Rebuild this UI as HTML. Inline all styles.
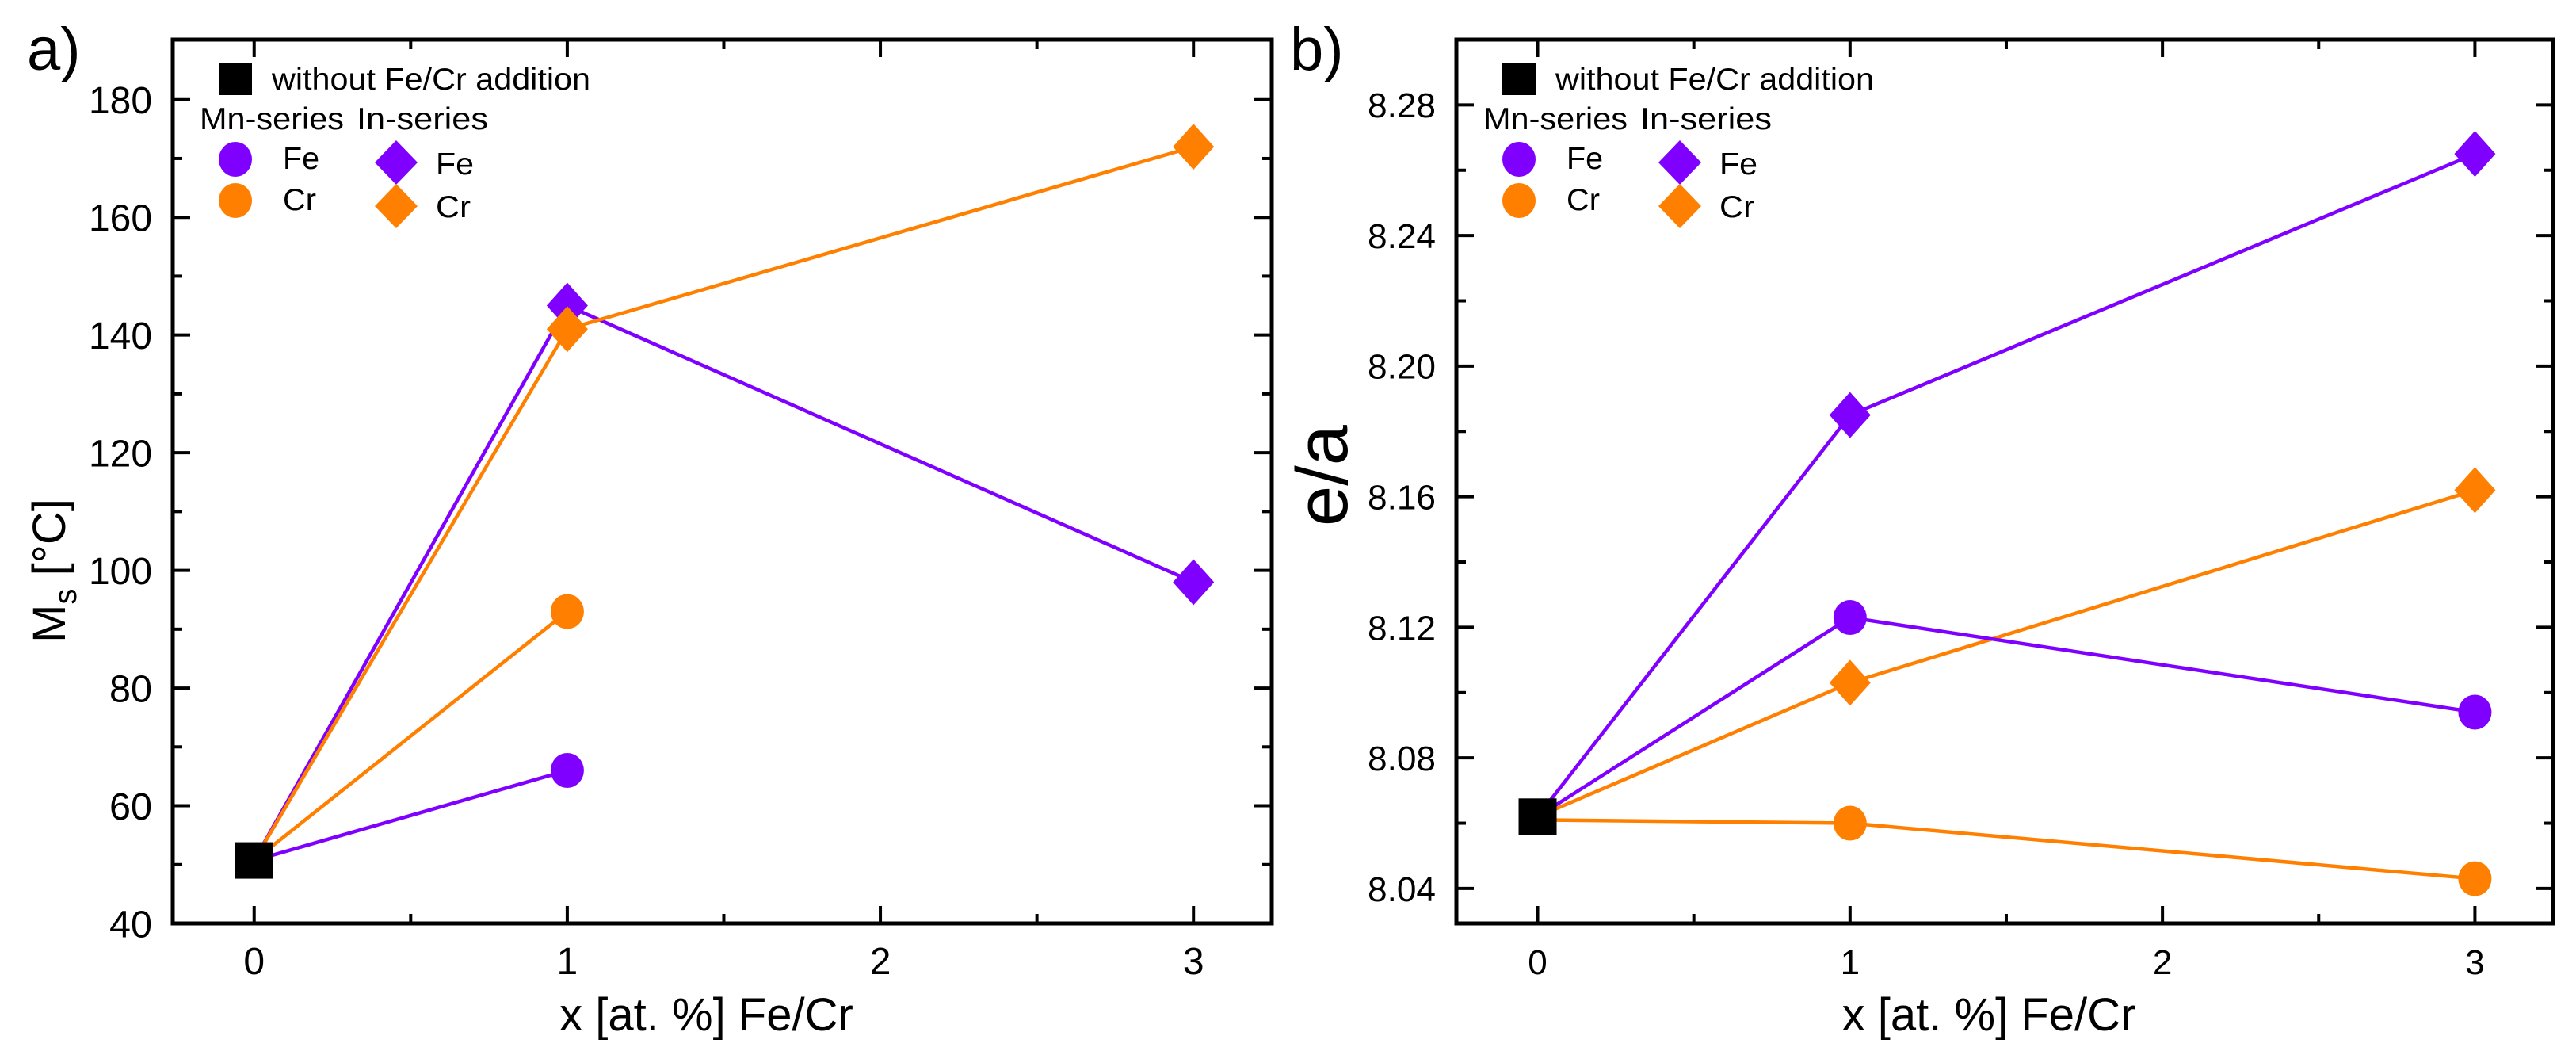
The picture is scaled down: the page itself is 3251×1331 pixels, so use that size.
<!DOCTYPE html>
<html><head><meta charset="utf-8">
<style>
html,body{margin:0;padding:0;background:#fff;}
svg{display:block;font-family:"Liberation Sans",Arial,sans-serif;}
</style></head>
<body>
<svg id="fig" width="3251" height="1331" viewBox="0 0 3251 1331"></svg>
<script>
// ---- Panel a data (Ms) ----
const xCatsA = [0, 1, 3];
const baseA = 50.7;
const mnFeA = [null, 66, null];
const mnCrA = [null, 93, null];
const inFeA = [null, 145, 98];
const inCrA = [null, 141, 172];
const yTicksA = [40, 60, 80, 100, 120, 140, 160, 180];
const yTickLabelsA = ["40", "60", "80", "100", "120", "140", "160", "180"];
// ---- Panel b data (e/a) ----
const baseB = 8.062;
const mnFeB = [null, 8.123, 8.094];
const mnCrB = [8.061, 8.060, 8.043];
const inFeB = [null, 8.185, 8.265];
const inCrB = [null, 8.103, 8.162];
const yTicksB = [8.04, 8.08, 8.12, 8.16, 8.20, 8.24, 8.28];
const yTickLabelsB = ["8.04", "8.08", "8.12", "8.16", "8.20", "8.24", "8.28"];
const xTicks = [0, 1, 2, 3];
const xTickLabels = ["0", "1", "2", "3"];

const NS = "http://www.w3.org/2000/svg";
const svg = document.getElementById("fig");
const PUR = "#8000ff", ORG = "#ff8000";

function mk(tag, attrs, parent) {
  const e = document.createElementNS(NS, tag);
  for (const k in attrs) e.setAttribute(k, attrs[k]);
  (parent || svg).appendChild(e);
  return e;
}

function panel(cfg) {
  const g = mk("g", {});
  
  
  const L = cfg.left, R = cfg.right, T = 50, B = 1165;
  const xs = v => L + (v - (-0.26)) / (3.25 - (-0.26)) * (R - L);
  const ys = v => B - (v - cfg.ymin) / (cfg.ymax - cfg.ymin) * (B - T);

  const tg = mk("g", {stroke: "#000", "stroke-width": 4}, g);
  
  
  xTicks.forEach((v, i) => {
    const x = xs(v);
    mk("line", {x1: x, x2: x, y1: B, y2: B - 22}, tg);
    mk("line", {x1: x, x2: x, y1: T, y2: T + 22}, tg);
    if (i < xTicks.length - 1) {
      const xm = xs(v + 0.5);
      mk("line", {x1: xm, x2: xm, y1: B, y2: B - 12}, tg);
      mk("line", {x1: xm, x2: xm, y1: T, y2: T + 12}, tg);
    }
    const t = mk("text", {x: x, y: B + 64, "font-size": cfg.tickFont, "text-anchor": "middle", "fill": "#000"}, g);
    t.textContent = xTickLabels[i];
    
    
  });
  cfg.yTicks.forEach((v, i) => {
    const y = ys(v);
    mk("line", {x1: L, x2: L + 22, y1: y, y2: y}, tg);
    mk("line", {x1: R, x2: R - 22, y1: y, y2: y}, tg);
    const ym = ys(v + cfg.minorStep);
    if (ym > T + 2) {
      mk("line", {x1: L, x2: L + 12, y1: ym, y2: ym}, tg);
      mk("line", {x1: R, x2: R - 12, y1: ym, y2: ym}, tg);
    }
    const t = mk("text", {x: L - 26, y: y + cfg.tickFont * 0.36, "font-size": cfg.tickFont, "text-anchor": "end", "fill": "#000", "textLength": cfg.tickW[i], "lengthAdjust": "spacingAndGlyphs"}, g);
    t.textContent = cfg.yLabels[i];
    
    
  });
  const frame = mk("rect", {x: L, y: T, width: R - L, height: B - T, fill: "none", stroke: "#000", "stroke-width": 5}, g);
  
  

  const base = [xs(0), ys(cfg.base)];
  function series(vals, color, shape, nm) {
    const pts = [base];
    vals.forEach((v, i) => {
      if (v === null) return;
      pts.push([xs(xCatsA[i]), ys(v)]);
    });
    const pl = mk("polyline", {points: pts.map(p => p.join(",")).join(" "), fill: "none", stroke: color, "stroke-width": 4.5}, g);
    
    
    vals.forEach((v, i) => {
      if (v === null || i === 0) return;
      const cx = xs(xCatsA[i]), cy = ys(v);
      let m;
      if (shape === "c") m = mk("ellipse", {cx: cx, cy: cy, rx: 21, ry: 22, fill: color}, g);
      else m = mk("polygon", {points: `${cx},${cy-29} ${cx+26},${cy} ${cx},${cy+29} ${cx-26},${cy}`, fill: color}, g);
      
      
    });
  }
  series(cfg.inFe, PUR, "d", "in-fe");
  series(cfg.inCr, ORG, "d", "in-cr");
  series(cfg.mnCr, ORG, "c", "mn-cr");
  series(cfg.mnFe, PUR, "c", "mn-fe");
  const sq = mk("rect", {x: base[0] - 24, y: base[1] - 23, width: 48, height: 46, fill: "#000"}, g);
  
  

  const lg = mk("g", {}, g);
  
  
  mk("rect", {x: L + 58, y: 79, width: 42, height: 41, fill: "#000"}, lg);
  const lt = (x, y, s, nm, w) => { const t = mk("text", {x: x, y: y, "font-size": 39, fill: "#000", textLength: w, lengthAdjust: "spacingAndGlyphs"}, lg); t.textContent = s;   };
  lt(L + 125, 113, "without Fe/Cr addition", "legend-base-label", 402);
  lt(L + 34, 163, "Mn-series", "legend-mn-header", 182);
  lt(L + 232, 163, "In-series", "legend-in-header", 166);
  mk("ellipse", {cx: L + 79, cy: 201, rx: 21, ry: 22, fill: PUR}, lg);
  lt(L + 139, 213, "Fe", "legend-mn-fe", 46);
  mk("ellipse", {cx: L + 79, cy: 253, rx: 21, ry: 22, fill: ORG}, lg);
  lt(L + 139, 265, "Cr", "legend-mn-cr", 42);
  let cx = L + 282, cy = 205;
  mk("polygon", {points: `${cx},${cy-28} ${cx+27},${cy} ${cx},${cy+28} ${cx-27},${cy}`, fill: PUR}, lg);
  lt(L + 332, 220, "Fe", "legend-in-fe", 48);
  cy = 260;
  mk("polygon", {points: `${cx},${cy-28} ${cx+27},${cy} ${cx},${cy+28} ${cx-27},${cy}`, fill: ORG}, lg);
  lt(L + 332, 274, "Cr", "legend-in-cr", 44);

  const xt = mk("text", {x: (L + R) / 2 - 20, y: 1300, "font-size": 58, "text-anchor": "middle", fill: "#000"}, g);
  xt.textContent = "x [at. %] Fe/Cr";
  
  
  const pl = mk("text", {x: cfg.labelX, y: 88, "font-size": 76, fill: "#000"}, g);
  pl.textContent = cfg.label;
  
  
}

panel({name: "panel-a", left: 218, right: 1605, ymin: 40, ymax: 190.2, base: baseA,
  mnFe: mnFeA, mnCr: mnCrA, inFe: inFeA, inCr: inCrA, yTicks: yTicksA, yLabels: yTickLabelsA,
  minorStep: 10, tickFont: 48, tickW: [54, 54, 54, 80, 80, 80, 80, 80], label: "a)", labelX: 34});
panel({name: "panel-b", left: 1838, right: 3222, ymin: 8.0293, ymax: 8.3, base: baseB,
  mnFe: mnFeB, mnCr: mnCrB, inFe: inFeB, inCr: inCrB, yTicks: yTicksB, yLabels: yTickLabelsB,
  minorStep: 0.02, tickFont: 44, tickW: [86, 86, 86, 86, 86, 86, 86], label: "b)", labelX: 1628});

const ya = mk("text", {transform: "translate(82,720) rotate(-90)", "font-size": 58, "text-anchor": "middle", fill: "#000"});
ya.innerHTML = 'M<tspan font-size="40" dy="14">s</tspan><tspan dy="-14"> [°C]</tspan>';


const yb = mk("text", {transform: "translate(1700,600) rotate(-90)", "font-size": 92, "text-anchor": "middle", fill: "#000"});
yb.textContent = "e/a";


</script>
</body></html>
